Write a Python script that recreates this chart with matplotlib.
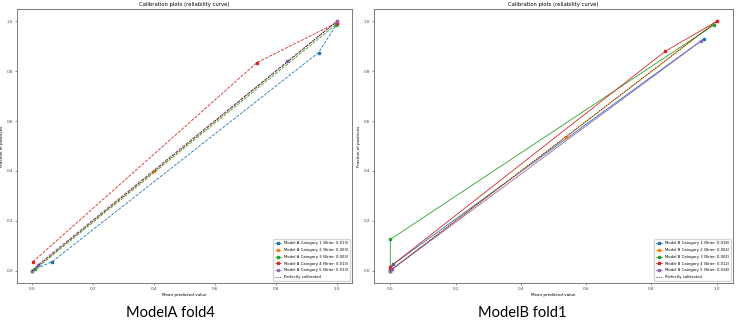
import matplotlib
matplotlib.use("Agg")
import matplotlib.pyplot as plt

# ModelA fold4 : mean predicted value / fraction of positives per category
a_x = [
    [0.0, 0.066, 0.94, 1.0],
    [0.0, 0.40, 1.0],
    [0.01, 0.997],
    [0.002, 0.738, 1.0],
    [0.0, 0.019, 0.838, 1.0],
]
a_y = [
    [0.0, 0.036, 0.875, 0.99],
    [0.0, 0.398, 1.0],
    [0.005, 0.987],
    [0.035, 0.835, 0.995],
    [0.0, 0.024, 0.84, 1.0],
]
a_brier = [0.013, 0.003, 0.003, 0.013, 0.013]

# ModelB fold1
b_x = [
    [0.0, 0.009, 0.96],
    [0.0, 0.537, 1.0],
    [0.0, 0.0, 0.993],
    [0.0, 0.0, 0.842, 1.0],
    [0.0, 0.005, 0.951],
]
b_y = [
    [0.0, 0.025, 0.93],
    [0.0, 0.535, 1.0],
    [0.0, 0.125, 0.987],
    [0.005, 0.016, 0.88, 1.0],
    [0.0, 0.005, 0.92],
]
b_brier = [0.018, 0.004, 0.002, 0.012, 0.018]

colors = ['#1f77b4', '#ff7f0e', '#2ca02c', '#d62728', '#9467bd']
ticks = [0.0, 0.2, 0.4, 0.6, 0.8, 1.0]

fig = plt.figure(figsize=(7.36, 3.23), dpi=100)
fs = 3.0


def draw(ax, xs, ys, briers, model, style):
    for i in range(5):
        ax.plot(xs[i], ys[i], style, color=colors[i], lw=0.6, ms=2,
                label='Model %s Category %d (Brier: %.3f)' % (model, i + 1, briers[i]))
    ax.plot([0, 1], [0, 1], 'k:', lw=0.6, label='Perfectly calibrated')
    ax.set_xticks(ticks)
    ax.set_yticks(ticks)
    ax.tick_params(labelsize=fs, length=1.5, width=0.4, pad=1.5, colors='#444444')
    for s in ax.spines.values():
        s.set_linewidth(0.6)
        s.set_color('#666666')
    ax.set_xlabel('Mean predicted value', fontsize=fs, labelpad=1.5)
    ax.set_ylabel('Fraction of positives', fontsize=fs, labelpad=1.5)
    ax.set_title('Calibration plots (reliability curve)', fontsize=3.8, pad=2)
    ax.legend(loc='lower right', fontsize=2.7, handlelength=1.6, borderpad=0.5,
              labelspacing=0.75, framealpha=0.8, edgecolor='#cccccc')


ax1 = fig.add_axes([17 / 736, 40 / 323, 335 / 736, 274 / 323])
draw(ax1, a_x, a_y, a_brier, 'A', 's--')
ax2 = fig.add_axes([374 / 736, 40 / 323, 359 / 736, 274 / 323])
draw(ax2, b_x, b_y, b_brier, 'B', 's-')

fig.text(170 / 736, 1 - 313 / 323, 'ModelA fold4', fontsize=10.5, family='Lato',
         ha='center', va='center')
fig.text(522 / 736, 1 - 313 / 323, 'ModelB fold1', fontsize=10.5, family='Lato',
         ha='center', va='center')

fig.savefig('out.png', dpi=100)
